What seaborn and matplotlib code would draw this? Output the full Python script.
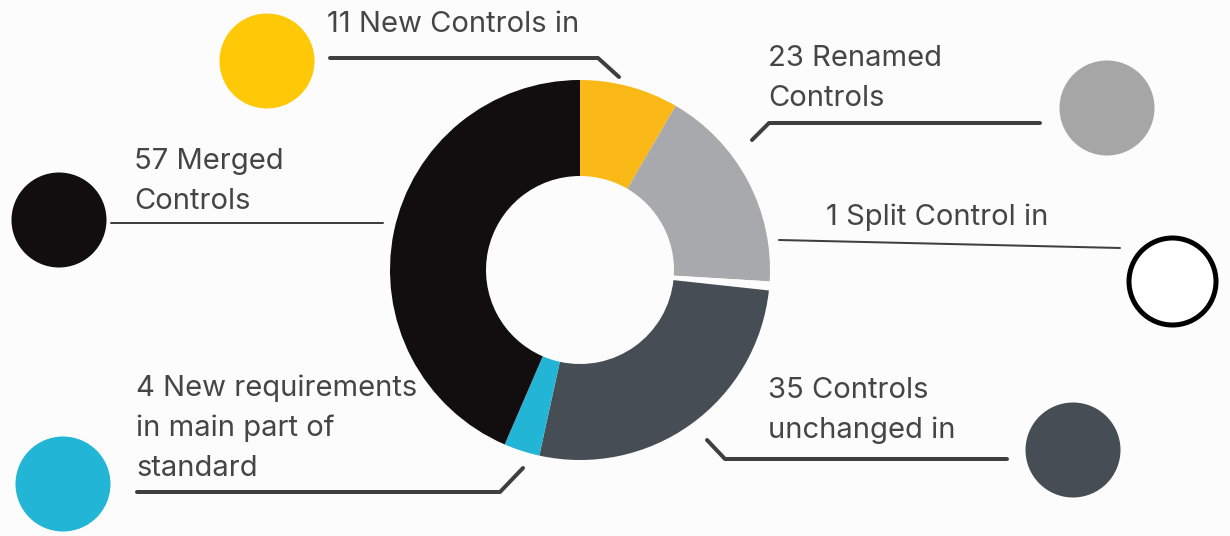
import matplotlib
matplotlib.use("Agg")
import matplotlib.pyplot as plt
import seaborn as sns
import pandas as pd

# ---- data ----
categories = ["11 New Controls in", "23 Renamed\nControls", "1 Split Control in",
              "35 Controls\nunchanged in", "4 New requirements\nin main part of\nstandard",
              "57 Merged\nControls"]
values = [11, 23, 1, 35, 4, 57]
slice_colors = ["#FBB917", "#A7A9AC", "#FCFCFC", "#474D54", "#22B5D6", "#120D0E"]
dot_colors = ["#FFC907", "#A6A6A6", "#FFFFFF", "#474D54", "#22B5D6", "#120D0E"]

# ---- layout (pixel coordinates) ----
W, H = 1230, 536
BG = "#FCFCFC"
TXT = "#454545"
center = (580, 270)
R_OUT, R_W = 190, 96
dot_x = [267, 1107, 1172, 1073, 63, 59]
dot_y = [61, 108, 281, 450, 484, 220]
label_x = [327, 768, 826, 768, 136, 134]
label_y = [32, 66, 225, 398, 396, 169]   # baseline of first line
line_gap = 40
connectors = [
    ([330, 598, 619], [58, 58, 77], 4),
    ([752, 769, 1040], [140, 123, 123], 4),
    ([779, 1120], [240, 248], 2),
    ([707, 725, 1007], [440, 459, 459], 4),
    ([137, 500, 523], [492, 492, 468], 4),
    ([111, 383], [223, 223], 2),
]

sns.set_theme(style="white")
plt.rcParams["font.family"] = ["Inter", "DejaVu Sans"]

fig = plt.figure(figsize=(W / 100, H / 100), dpi=100, facecolor=BG)
ax = fig.add_axes([0, 0, 1, 1], facecolor=BG)

ax.pie(values, colors=slice_colors, startangle=-90, counterclock=True,
       center=center, radius=R_OUT,
       wedgeprops=dict(width=R_W, linewidth=0))

df = pd.DataFrame({"x": dot_x, "y": dot_y, "cat": categories})
filled = df.drop(index=2)
sns.scatterplot(data=filled, x="x", y="y", hue="cat",
                palette=[dot_colors[i] for i in filled.index],
                s=(95 * 0.72) ** 2, linewidth=0, legend=False, ax=ax, zorder=3)
ring = df.loc[[2]]
sns.scatterplot(data=ring, x="x", y="y", color=dot_colors[2], edgecolor="#000000",
                s=(87 * 0.72) ** 2, linewidth=5 * 0.72, legend=False, ax=ax, zorder=3)

for xs, ys, lw in connectors:
    ax.plot(xs, ys, color="#3F3F3F", lw=lw * 0.72, solid_capstyle="round",
            solid_joinstyle="round", zorder=2)

for lab, lx, ly in zip(categories, label_x, label_y):
    for k, line in enumerate(lab.split("\n")):
        ax.text(lx, ly + k * line_gap, line, fontsize=21, color=TXT,
                ha="left", va="baseline")

ax.set_xlim(0, W)
ax.set_ylim(H, 0)
ax.set_aspect("auto")
ax.set_xlabel("")
ax.set_ylabel("")
ax.axis("off")

fig.savefig("out.png", dpi=100, facecolor=BG)
